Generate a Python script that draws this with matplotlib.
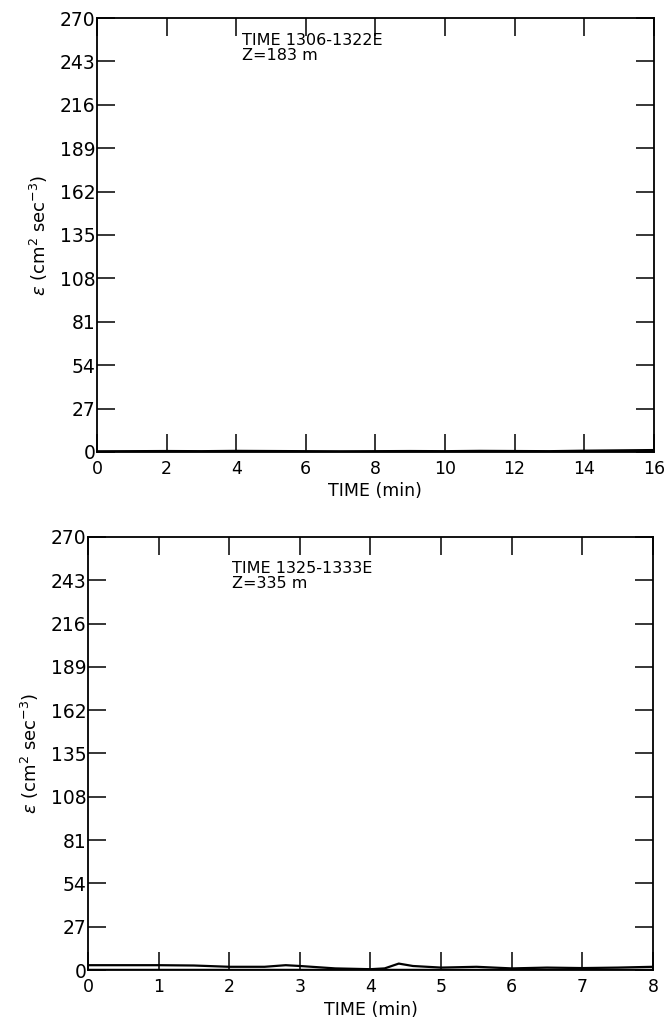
import matplotlib
matplotlib.use("Agg")
import matplotlib.pyplot as plt

# Data
yticks = [0, 27, 54, 81, 108, 135, 162, 189, 216, 243, 270]

top_xticks = [0, 2, 4, 6, 8, 10, 12, 14, 16]
top_time = [0, 1, 2, 3, 4, 5, 6, 7, 8, 9, 10, 11, 12, 13, 14, 15, 16]
top_eps = [0.4, 0.5, 0.6, 0.5, 0.7, 0.6, 0.5, 0.4, 0.5, 0.6, 0.5, 0.7, 0.6, 0.5, 0.8, 1.0, 1.2]
top_label = "TIME 1306-1322E\nZ=183 m"

bot_xticks = [0, 1, 2, 3, 4, 5, 6, 7, 8]
bot_time = [0, 0.5, 1, 1.5, 2, 2.5, 2.8, 3, 3.5, 4, 4.2, 4.4, 4.6, 5, 5.5, 6, 6.5, 7, 7.5, 8]
bot_eps = [3, 3, 3, 2.8, 2, 2, 3, 2.5, 1, 0.5, 1, 4, 2.5, 1.5, 2, 1, 1.5, 1.2, 1.5, 2]
bot_label = "TIME 1325-1333E\nZ=335 m"

plt.rcParams['font.family'] = ['DejaVu Sans']
fig = plt.figure(figsize=(6.66, 10.35), dpi=100)

def panel(rect, time, eps, xticks, label, txt_pos):
    ax = fig.add_axes(rect)
    ax.plot(time, eps, color='black', lw=1.6)
    ax.plot([time[0], time[-1]], [0, 0], color='black', lw=2.5)
    ax.set_xlim(xticks[0], xticks[-1])
    ax.set_ylim(0, 270)
    ax.set_xticks(xticks)
    ax.set_yticks(yticks)
    ax.tick_params(axis='x', direction='in', length=13, width=1.1, top=True, bottom=True,
                   labelsize=12.5, pad=6)
    ax.tick_params(axis='y', direction='in', length=13, width=1.1, left=True, right=True,
                   labelsize=13.5, pad=1)
    for s in ax.spines.values():
        s.set_linewidth(1.3)
    ax.set_xlabel("TIME (min)", fontsize=12.5, labelpad=3)
    ax.set_ylabel(r"$\epsilon$ (cm$^2$ sec$^{-3}$)", fontsize=13, labelpad=7)
    ax.text(txt_pos[0], txt_pos[1], label, transform=ax.transAxes, fontsize=11.5,
            va='top', ha='left', linespacing=1.0)
    return ax

panel([0.1456, 0.5633, 0.836, 0.4193], top_time, top_eps, top_xticks, top_label, (0.26, 0.965))
panel([0.1321, 0.0628, 0.8484, 0.4184], bot_time, bot_eps, bot_xticks, bot_label, (0.255, 0.945))

fig.savefig("out.png", dpi=100)
